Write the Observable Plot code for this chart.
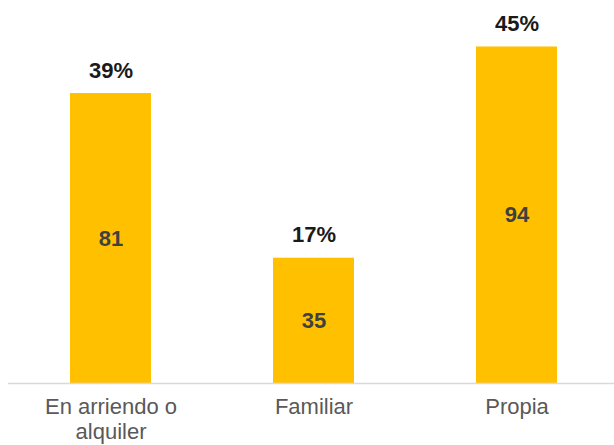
<!DOCTYPE html>
<html>
<head>
<meta charset="utf-8">
<script src="https://cdn.jsdelivr.net/npm/d3@7"></script>
<script src="https://cdn.jsdelivr.net/npm/@observablehq/plot@0.6"></script>
<style>
  html, body { margin: 0; padding: 0; background: #fff; }
  #chart svg { display: block; }
</style>
</head>
<body>
<div id="chart"></div>
<script>
const categories = ["En arriendo o alquiler", "Familiar", "Propia"];
const tickLabels = ["En arriendo o\nalquiler", "Familiar", "Propia"];
const counts = [81, 35, 94];
const percents = ["39%", "17%", "45%"];

const data = categories.map((c, i) => ({cat: c, n: counts[i], pct: percents[i], label: tickLabels[i]}));

const chart = Plot.plot({
  width: 614,
  height: 445,
  marginTop: 25,
  marginBottom: 62,
  marginLeft: 8,
  marginRight: 0,
  style: {fontFamily: "Liberation Sans, Arial, sans-serif", background: "#fff"},
  x: {domain: categories, range: [9, 618], paddingInner: 0.6, paddingOuter: 0.3, label: null},
  y: {domain: [0, 100], axis: null},
  marks: [
    Plot.barY(data, {x: "cat", y: "n", fill: "#FFC000"}),
    Plot.ruleY([0], {stroke: "#d9d9d9", strokeWidth: 1.5}),
    Plot.text(data, {x: "cat", y: "n", text: "pct", dy: -23, fontSize: 22, fontWeight: "bold", fill: "#1a1a1a"}),
    Plot.text(data, {x: "cat", y: d => d.n / 2, text: d => String(d.n), fontSize: 22, fontWeight: "bold", fill: "#404040"}),
    Plot.axisX({tickSize: 0, tickPadding: 13, fontSize: 22, fill: "#595959", lineHeight: 1.12,
      tickFormat: (d) => tickLabels[categories.indexOf(d)], label: null})
  ]
});
document.getElementById("chart").appendChild(chart);
</script>
</body>
</html>
